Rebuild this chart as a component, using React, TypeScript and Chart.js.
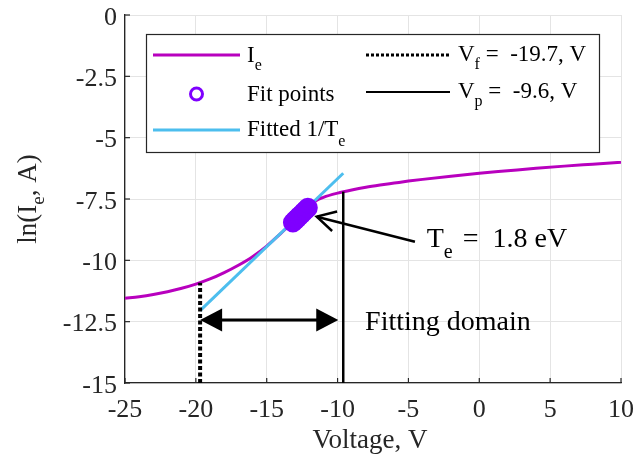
import React, { useEffect, useRef } from 'react';
import { Chart, registerables } from 'chart.js';

Chart.register(...registerables);

const FONT = '"Liberation Serif", "Times New Roman", serif';
const TEXT = '#262626';

// Electron current curve: ln(Ie) vs voltage
const ieVoltage = [-25, -24, -23, -22, -21, -20, -19, -18, -17, -16, -15, -14, -13, -12, -11.5, -11, -10, -9, -8, -7, -6, -5, -4, -2, 0, 2, 4, 6, 8, 10];
const ieLn = [-11.55, -11.48, -11.39, -11.28, -11.14, -10.97, -10.76, -10.5, -10.2, -9.85, -9.42, -8.9, -8.36, -7.83, -7.56, -7.43, -7.26, -7.13, -7.02, -6.93, -6.85, -6.77, -6.7, -6.57, -6.45, -6.35, -6.25, -6.16, -6.08, -6.0];

// Fitted 1/Te line end points
const fitVoltage = [-19.7, -9.6];
const fitLn = [-12.05, -6.45];

// Fit points
const fitPtsVoltage = [-13.15, -13.0, -12.85, -12.7, -12.55, -12.4, -12.25, -12.1];
const fitPtsLn = [-8.46, -8.37, -8.29, -8.2, -8.12, -8.03, -7.95, -7.86];

// Floating / plasma potentials
const vfVoltage = -19.7;
const vfTopLn = -10.91;
const vpVoltage = -9.6;
const vpTopLn = -7.2;
const yBottom = -15;

// Axis limits / ticks
const xMin = -25, xMax = 10, xStep = 5;
const yMinV = -15, yMaxV = 0, yStep = 2.5;

// Annotations (data coordinates)
const domainArrowLn = -12.43;
const domainArrowRight = -9.95;
const domainLabel = { x: -8.06, y: -12.84, text: 'Fitting domain' };
const teArrowTip = { x: -11.47, y: -8.22 };
const teArrowTail = { x: -4.54, y: -9.24 };
const teLabel = { x: -3.71, y: -9.44, value: '1.8 eV' };

const legendVf = '-19.7, V';
const legendVp = '-9.6, V';

const MAGENTA = '#B800BE';
const CYAN = '#4DBEEE';
const PURPLE = '#7F00FF';

type Part = { t: string; sub?: boolean; dx?: number };

function rich(ctx: CanvasRenderingContext2D, parts: Part[], x: number, y: number, size: number, subSize: number, subDy: number, measureOnly = false) {
  let cx = x;
  for (const p of parts) {
    cx += p.dx || 0;
    ctx.font = `${p.sub ? subSize : size}px ${FONT}`;
    if (!measureOnly) ctx.fillText(p.t, cx, y + (p.sub ? subDy : 0));
    cx += ctx.measureText(p.t).width;
  }
  return cx - x;
}

const fmt = (v: number) => String(v);

const annotPlugin = {
  id: 'annot',
  beforeDatasetsDraw(chart: any) {
    const { ctx, scales, chartArea } = chart;
    const xs = scales.x, ys = scales.y;
    ctx.save();
    ctx.strokeStyle = TEXT;
    ctx.lineWidth = 1.2;
    for (const t of xs.ticks) {
      const px = xs.getPixelForValue(t.value);
      ctx.beginPath();
      ctx.moveTo(px, chartArea.bottom);
      ctx.lineTo(px, chartArea.bottom - 5);
      ctx.stroke();
    }
    for (const t of ys.ticks) {
      const py = ys.getPixelForValue(t.value);
      ctx.beginPath();
      ctx.moveTo(chartArea.left, py);
      ctx.lineTo(chartArea.left + 5, py);
      ctx.stroke();
    }
    // tick labels
    ctx.fillStyle = TEXT;
    ctx.font = `26px ${FONT}`;
    ctx.textBaseline = 'alphabetic';
    ctx.textAlign = 'center';
    for (const t of xs.ticks) {
      ctx.fillText(fmt(t.value), xs.getPixelForValue(t.value), chartArea.bottom + 34);
    }
    ctx.textAlign = 'right';
    for (const t of ys.ticks) {
      ctx.fillText(fmt(t.value), chartArea.left - 8, ys.getPixelForValue(t.value) + 9.5);
    }
    ctx.restore();
  },
  afterDraw(chart: any) {
    const { ctx, scales, chartArea } = chart;
    const xs = scales.x, ys = scales.y;
    ctx.save();
    ctx.fillStyle = '#000';
    ctx.strokeStyle = '#000';

    // Double arrow (fitting domain)
    const ay = ys.getPixelForValue(domainArrowLn);
    const ax1 = xs.getPixelForValue(vfVoltage);
    const ax2 = xs.getPixelForValue(domainArrowRight);
    const hl = 22, hw = 11.5;
    ctx.lineWidth = 3;
    ctx.beginPath();
    ctx.moveTo(ax1 + hl - 2, ay);
    ctx.lineTo(ax2 - hl + 2, ay);
    ctx.stroke();
    ctx.beginPath();
    ctx.moveTo(ax1, ay); ctx.lineTo(ax1 + hl, ay - hw); ctx.lineTo(ax1 + hl, ay + hw); ctx.closePath(); ctx.fill();
    ctx.beginPath();
    ctx.moveTo(ax2, ay); ctx.lineTo(ax2 - hl, ay - hw); ctx.lineTo(ax2 - hl, ay + hw); ctx.closePath(); ctx.fill();

    // Te arrow
    const tx = xs.getPixelForValue(teArrowTip.x), ty = ys.getPixelForValue(teArrowTip.y);
    const sx = xs.getPixelForValue(teArrowTail.x), sy = ys.getPixelForValue(teArrowTail.y);
    ctx.lineWidth = 2.5;
    ctx.beginPath(); ctx.moveTo(sx, sy); ctx.lineTo(tx, ty); ctx.stroke();
    const ang = Math.atan2(sy - ty, sx - tx);
    const bl = 21, ba = 0.5;
    ctx.beginPath();
    ctx.moveTo(tx + bl * Math.cos(ang - ba), ty + bl * Math.sin(ang - ba));
    ctx.lineTo(tx, ty);
    ctx.lineTo(tx + bl * Math.cos(ang + ba), ty + bl * Math.sin(ang + ba));
    ctx.stroke();

    // Texts
    ctx.fillStyle = '#000';
    ctx.textBaseline = 'alphabetic';
    ctx.textAlign = 'left';
    rich(ctx, [{ t: domainLabel.text }], xs.getPixelForValue(domainLabel.x), ys.getPixelForValue(domainLabel.y), 28, 20, 8);
    rich(ctx, [{ t: 'T' }, { t: 'e', sub: true }, { t: ' =', dx: 3 }, { t: '  ' + teLabel.value, dx: 0 }], xs.getPixelForValue(teLabel.x), ys.getPixelForValue(teLabel.y), 28, 20, 11);

    // Legend box
    const L = chartArea.left + 21, T = chartArea.top + 19;
    const W = 453, H = 118;
    ctx.fillStyle = '#fff';
    ctx.fillRect(L, T, W, H);
    ctx.strokeStyle = TEXT;
    ctx.lineWidth = 1.2;
    ctx.strokeRect(L + 0.5, T + 0.5, W, H);

    const r1 = T + 21, r2 = T + 60, r3 = T + 96;
    const c1a = L + 7, c1b = L + 94, c1t = L + 101;
    const c2a = L + 220, c2b = L + 304, c2t = L + 312;
    ctx.lineCap = 'butt';
    ctx.strokeStyle = MAGENTA; ctx.lineWidth = 3;
    ctx.beginPath(); ctx.moveTo(c1a, r1); ctx.lineTo(c1b, r1); ctx.stroke();
    ctx.strokeStyle = PURPLE; ctx.lineWidth = 3;
    ctx.beginPath(); ctx.arc((c1a + c1b) / 2, r2, 6, 0, Math.PI * 2); ctx.stroke();
    ctx.strokeStyle = CYAN; ctx.lineWidth = 3;
    ctx.beginPath(); ctx.moveTo(c1a, r3); ctx.lineTo(c1b, r3); ctx.stroke();
    ctx.strokeStyle = '#000'; ctx.lineWidth = 3; ctx.setLineDash([3, 2]);
    ctx.beginPath(); ctx.moveTo(c2a, r1); ctx.lineTo(c2b, r1); ctx.stroke();
    ctx.setLineDash([]);
    ctx.lineWidth = 2;
    ctx.beginPath(); ctx.moveTo(c2a, r2 - 2); ctx.lineTo(c2b, r2 - 2); ctx.stroke();

    ctx.fillStyle = '#000';
    rich(ctx, [{ t: 'I' }, { t: 'e', sub: true }], c1t, r1 + 7, 23, 16, 8);
    rich(ctx, [{ t: 'Fit points' }], c1t, r2 + 7, 23, 16, 8);
    rich(ctx, [{ t: 'Fitted 1/T' }, { t: 'e', sub: true }], c1t, r3 + 6, 23, 16, 10);
    rich(ctx, [{ t: 'V' }, { t: 'f', sub: true }, { t: ' =  ' + legendVf }], c2t, r1 + 6, 23, 16, 8);
    rich(ctx, [{ t: 'V' }, { t: 'p', sub: true }, { t: ' =  ' + legendVp }], c2t, r2 + 4, 23, 16, 8);

    // Axis titles
    ctx.fillStyle = TEXT;
    ctx.font = `27px ${FONT}`;
    const xt = 'Voltage, V';
    const xw = ctx.measureText(xt).width;
    ctx.fillText(xt, (chartArea.left + chartArea.right) / 2 - xw / 2 - 3, 448);

    ctx.translate(36, (chartArea.top + chartArea.bottom) / 2);
    ctx.rotate(-Math.PI / 2);
    const yParts: Part[] = [{ t: 'ln(I' }, { t: 'e', sub: true }, { t: ', A)' }];
    const yw = rich(ctx, yParts, 0, 0, 27, 19, 8, true);
    rich(ctx, yParts, -yw / 2, 0, 27, 19, 8);
    ctx.restore();
  },
};

export default function App() {
  const ref = useRef<HTMLCanvasElement>(null);
  useEffect(() => {
    if (!ref.current) return;
    const toXY = (xs: number[], ys: number[]) => xs.map((x, i) => ({ x, y: ys[i] }));
    const chart = new Chart(ref.current, {
      type: 'scatter',
      data: {
        datasets: [
          {
            label: 'Vp',
            data: [{ x: vpVoltage, y: yBottom }, { x: vpVoltage, y: vpTopLn }],
            showLine: true, borderColor: '#000', borderWidth: 2.5, pointRadius: 0, order: 1,
          },
          {
            label: 'Vf',
            data: [{ x: vfVoltage, y: yBottom }, { x: vfVoltage, y: vfTopLn }],
            showLine: true, borderColor: '#000', borderWidth: 4, borderDash: [4, 2.5], pointRadius: 0, order: 2,
          },
          {
            label: 'Fit points',
            data: toXY(fitPtsVoltage, fitPtsLn),
            showLine: false, pointRadius: 8, pointBorderWidth: 4, pointBorderColor: PURPLE, pointBackgroundColor: 'rgba(0,0,0,0)', order: 3,
          },
          {
            label: 'Fitted 1/Te',
            data: toXY(fitVoltage, fitLn),
            showLine: true, borderColor: CYAN, borderWidth: 3, pointRadius: 0, order: 4,
          },
          {
            label: 'Ie',
            data: toXY(ieVoltage, ieLn),
            showLine: true, borderColor: MAGENTA, borderWidth: 3, pointRadius: 0, cubicInterpolationMode: 'monotone', order: 5,
          },
        ],
      },
      options: {
        animation: false,
        responsive: false,
        layout: { padding: { left: 0, top: 0, right: 0, bottom: 0 } },
        plugins: { legend: { display: false }, tooltip: { enabled: false } },
        scales: {
          x: {
            type: 'linear', min: xMin, max: xMax,
            afterBuildTicks: (s: any) => { const t = []; for (let v = xMin; v <= xMax; v += xStep) t.push({ value: v }); s.ticks = t; },
            afterFit: (s: any) => { s.height = 76; s.paddingRight = 13; s.paddingLeft = 0; },
            grid: { color: '#e4e4e4', lineWidth: 1, drawTicks: false },
            border: { color: TEXT, width: 1.3 },
            ticks: { display: false },
          },
          y: {
            type: 'linear', min: yMinV, max: yMaxV,
            afterBuildTicks: (s: any) => { const t = []; for (let v = yMinV; v <= yMaxV; v += yStep) t.push({ value: v }); s.ticks = t; },
            afterFit: (s: any) => { s.width = 125; s.paddingTop = 15; s.paddingBottom = 0; },
            grid: { color: '#e4e4e4', lineWidth: 1, drawTicks: false },
            border: { color: TEXT, width: 1.3 },
            ticks: { display: false },
          },
        },
      },
      plugins: [annotPlugin],
    } as any);
    return () => chart.destroy();
  }, []);
  return (
    <div style={{ position: 'absolute', left: 0, top: 0, width: 634, height: 459, background: '#fff' }}>
      <canvas ref={ref} width={634} height={459} style={{ width: 634, height: 459 }} />
    </div>
  );
}
